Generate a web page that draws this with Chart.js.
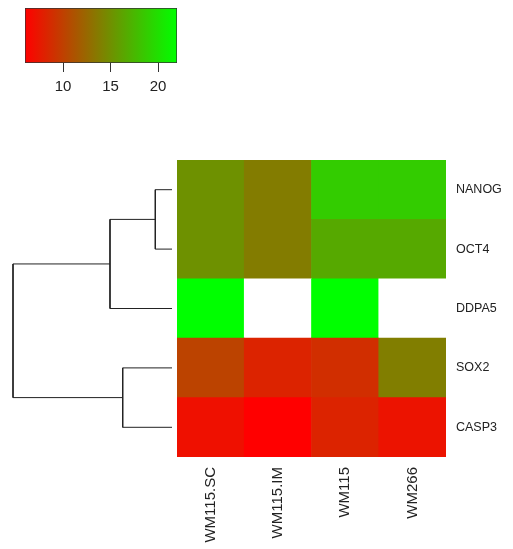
<!DOCTYPE html>
<html>
<head>
<meta charset="utf-8">
<script src="https://cdn.jsdelivr.net/npm/chart.js@4.4.1/dist/chart.umd.min.js"></script>
<style>
  body { margin: 0; background: #fff; }
  .wrap { position: relative; width: 513px; height: 549px; }
  canvas { position: absolute; top: 0; left: 0; }
</style>
</head>
<body>
<div class="wrap">
  <canvas id="heat" width="513" height="549"></canvas>
  <canvas id="dendro" width="177" height="549"></canvas>
  <canvas id="key" width="200" height="100"></canvas>
</div>
<script>
// data
const samples = ["WM115.SC", "WM115.IM", "WM115", "WM266"];
const genes = ["NANOG", "OCT4", "DDPA5", "SOX2", "CASP3"]; // top to bottom
const nanog = [15.1, 13.8, 18.8, 18.8];
const oct4 = [15.1, 13.8, 16.6, 16.6];
const ddpa5 = [22.0, null, 22.0, null];
const sox2 = [10.2, 8.2, 8.9, 13.9];
const casp3 = [7.0, 6.0, 8.2, 7.2];
const keyMin = 6;
const keyMax = 22;
const keyTicks = [10, 15, 20];
// hclust style merges: negative = leaf (1-based in genes), positive = earlier merge
const merges = [[-1, -2], [1, -3], [-4, -5], [2, 3]];
const mergeHeights = [2.1, 7.8, 6.2, 20];

const rows = [nanog, oct4, ddpa5, sox2, casp3];
const labelColor = "#222";

function cellColor(v) {
  if (v === null) return "#ffffff";
  let t = (v - keyMin) / (keyMax - keyMin);
  t = Math.max(0, Math.min(1, t));
  return "rgb(" + Math.round(255 * (1 - t)) + "," + Math.round(255 * t) + ",0)";
}

// heatmap: stacked bars, bottom row first
const heatSets = genes.map((g, i) => ({
  label: g,
  data: samples.map(() => 1),
  backgroundColor: rows[i].map(cellColor),
  borderWidth: 0,
  barPercentage: 1,
  categoryPercentage: 1,
})).reverse();

new Chart(document.getElementById("heat"), {
  type: "bar",
  data: { labels: samples, datasets: heatSets },
  options: {
    responsive: false,
    animation: false,
    layout: { padding: { top: 160, left: 177, right: 0, bottom: 0 } },
    plugins: { legend: { display: false }, tooltip: { enabled: false } },
    scales: {
      x: {
        stacked: true,
        grid: { display: false, drawTicks: false },
        border: { display: false },
        ticks: {
          minRotation: 90,
          maxRotation: 90,
          padding: 10,
          color: labelColor,
          font: { family: "'Liberation Sans', Arial, sans-serif", size: 15 },
        },
        afterFit: (s) => { s.height = 92; },
      },
      y: {
        stacked: true,
        position: "right",
        min: 0,
        max: 5,
        grid: { display: false, drawTicks: false },
        border: { display: false },
        afterBuildTicks: (s) => {
          s.ticks = [0.5, 1.5, 2.5, 3.5, 4.5].map((value) => ({ value }));
        },
        ticks: {
          padding: 10,
          color: labelColor,
          font: { family: "'Liberation Sans', Arial, sans-serif", size: 12.5 },
          callback: (v) => genes[4 - Math.floor(v)],
        },
        afterFit: (s) => { s.width = 67; },
      },
    },
  },
});

// dendrogram on the left, same row extent as the heatmap
const nodes = []; // {h, y} for each merge
function nodePos(id) {
  if (id < 0) return { h: 0, y: 4.5 - (-id - 1) };
  return nodes[id - 1];
}
const dendroSets = merges.map((m, k) => {
  const a = nodePos(m[0]);
  const b = nodePos(m[1]);
  const h = mergeHeights[k];
  nodes.push({ h, y: (a.y + b.y) / 2 });
  return {
    data: [{ x: a.h, y: a.y }, { x: h, y: a.y }, { x: h, y: b.y }, { x: b.h, y: b.y }],
    showLine: true,
    borderColor: "#222",
    borderWidth: 1,
    pointRadius: 0,
    tension: 0,
    clip: false,
  };
});

new Chart(document.getElementById("dendro"), {
  type: "scatter",
  data: { datasets: dendroSets },
  options: {
    responsive: false,
    animation: false,
    layout: { padding: { top: 160, bottom: 92, left: 13, right: 5 } },
    plugins: { legend: { display: false }, tooltip: { enabled: false } },
    scales: {
      x: { type: "linear", display: false, reverse: true, min: 0, max: mergeHeights[3] },
      y: { type: "linear", display: false, min: 0, max: 5 },
    },
  },
});

// colour key
new Chart(document.getElementById("key"), {
  type: "bar",
  data: {
    labels: ["key"],
    datasets: [{
      data: [[keyMin, keyMax]],
      backgroundColor: (ctx) => {
        const area = ctx.chart.chartArea;
        if (!area) return "#f00";
        const g = ctx.chart.ctx.createLinearGradient(area.left, 0, area.right, 0);
        g.addColorStop(0, cellColor(keyMin));
        g.addColorStop(0.5, cellColor((keyMin + keyMax) / 2));
        g.addColorStop(1, cellColor(keyMax));
        return g;
      },
      borderColor: "#333",
      borderWidth: 1,
      borderSkipped: false,
      barPercentage: 1,
      categoryPercentage: 1,
    }],
  },
  options: {
    indexAxis: "y",
    responsive: false,
    animation: false,
    layout: { padding: { top: 8, left: 25, right: 23, bottom: 0 } },
    plugins: { legend: { display: false }, tooltip: { enabled: false } },
    scales: {
      x: {
        type: "linear",
        min: keyMin,
        max: keyMax,
        grid: { drawOnChartArea: false, drawTicks: true, tickLength: 9, color: "#333" },
        border: { display: false },
        afterBuildTicks: (s) => {
          s.ticks = keyTicks.map((value) => ({ value }));
        },
        ticks: {
          padding: 6,
          color: labelColor,
          font: { family: "'Liberation Sans', Arial, sans-serif", size: 15 },
        },
        afterFit: (s) => { s.height = 37; },
      },
      y: { display: false },
    },
  },
});
</script>
</body>
</html>
